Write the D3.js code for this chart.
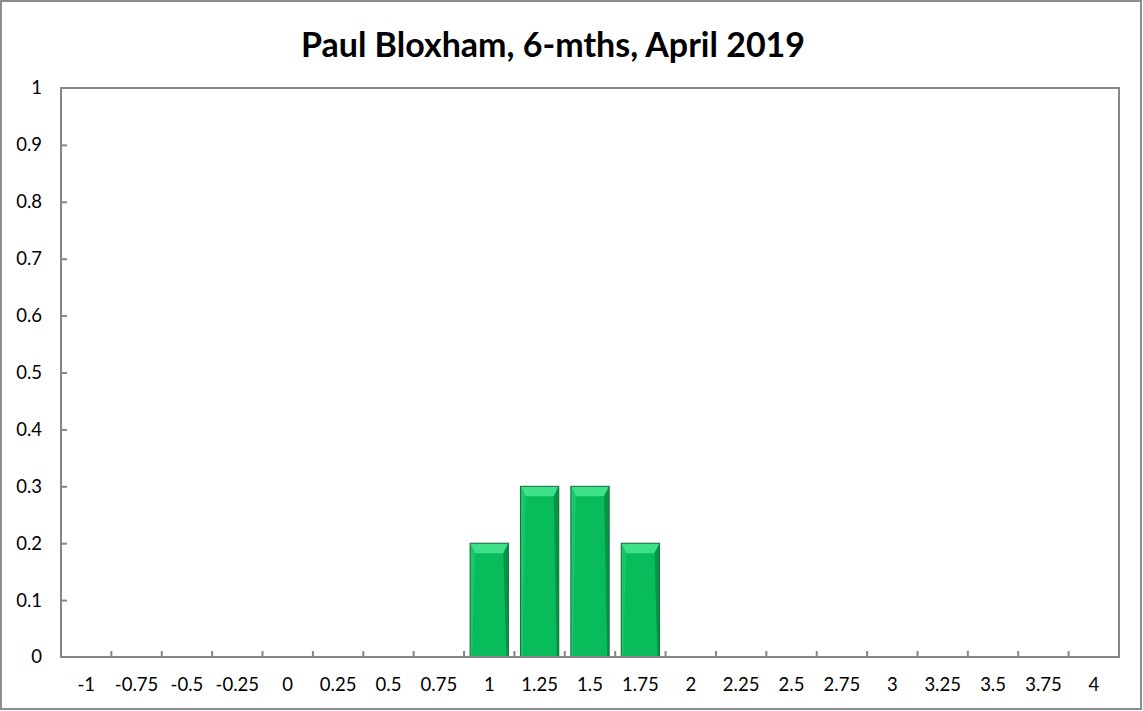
<!DOCTYPE html>
<html>
<head>
<meta charset="utf-8">
<script src="https://cdn.jsdelivr.net/npm/d3@7"></script>
<style>
  body { margin: 0; background: #fff; }
  svg { display: block; font-family: Lato, "Open Sans", sans-serif; }
</style>
</head>
<body>
<svg id="chart" width="1143" height="711"></svg>
<script>
// chart data
var title = "Paul Bloxham, 6-mths, April 2019";
var categories = ["-1", "-0.75", "-0.5", "-0.25", "0", "0.25", "0.5", "0.75", "1", "1.25", "1.5", "1.75", "2", "2.25", "2.5", "2.75", "3", "3.25", "3.5", "3.75", "4"];
var probs = [0, 0, 0, 0, 0, 0, 0, 0, 0.2, 0.3, 0.3, 0.2, 0, 0, 0, 0, 0, 0, 0, 0, 0];
var yTicks = [0, 0.1, 0.2, 0.3, 0.4, 0.5, 0.6, 0.7, 0.8, 0.9, 1];

var svg = d3.select("#chart"),
    margin = { top: 88, left: 61, bottom: 54, right: 24 },
    width = +svg.attr("width"),
    height = +svg.attr("height");

var data = categories.map((c, i) => ({ cat: c, value: probs[i] }));

// outer frame
svg.append("rect")
    .attr("x", 1).attr("y", 1)
    .attr("width", width - 3).attr("height", height - 3)
    .attr("fill", "#fff")
    .attr("stroke", "#8c8c8c")
    .attr("stroke-width", 2);

var x = d3.scaleBand()
    .domain(categories)
    .range([margin.left, width - margin.right])
    .paddingInner(0.24)
    .paddingOuter(0.12);

// band edges (for tick marks between categories)
var xEdge = d3.scaleBand()
    .domain(categories)
    .range([margin.left, width - margin.right]);

var y = d3.scaleLinear()
    .domain([0, 1])
    .range([height - margin.bottom, margin.top]);

// plot border
svg.append("rect")
    .attr("x", margin.left).attr("y", margin.top)
    .attr("width", width - margin.right - margin.left)
    .attr("height", height - margin.bottom - margin.top)
    .attr("fill", "none")
    .attr("stroke", "#868686")
    .attr("stroke-width", 2);

// title
svg.append("text")
    .attr("x", 553)
    .attr("y", 57)
    .attr("text-anchor", "middle")
    .attr("font-size", 34)
    .attr("font-weight", "bold")
    .attr("fill", "#000")
    .text(title);

// y axis
var yAxis = svg.append("g")
    .attr("transform", `translate(${margin.left},0)`)
    .call(d3.axisRight(y).tickValues(yTicks).tickSize(6).tickFormat(d3.format("")));
yAxis.select(".domain").remove();
yAxis.selectAll(".tick line").attr("stroke", "#868686").attr("stroke-width", 2);
yAxis.selectAll(".tick text")
    .attr("x", -19)
    .attr("text-anchor", "end")
    .attr("font-size", 18.5)
    .attr("font-family", "Lato, 'Open Sans', sans-serif")
    .attr("fill", "#000");
yAxis.selectAll(".tick").filter(d => d === 0 || d === 1).select("line").remove();

// x axis labels
var xAxis = svg.append("g")
    .attr("transform", `translate(0,${height - margin.bottom})`)
    .call(d3.axisBottom(xEdge).tickSize(0));
xAxis.select(".domain").remove();
xAxis.selectAll(".tick text")
    .attr("y", 28)
    .attr("dy", "0.32em")
    .attr("font-size", 18.5)
    .attr("font-family", "Lato, 'Open Sans', sans-serif")
    .attr("fill", "#000");

// tick marks between categories, pointing up
svg.append("g").selectAll("line")
    .data(categories.slice(1))
    .enter().append("line")
    .attr("x1", d => xEdge(d))
    .attr("x2", d => xEdge(d))
    .attr("y1", y(0))
    .attr("y2", y(0) - 6)
    .attr("stroke", "#868686")
    .attr("stroke-width", 2);

// bars with bevel
var bev = 5;
var bars = svg.append("g").selectAll("g")
    .data(data.filter(d => d.value > 0))
    .enter().append("g");

bars.append("rect")
    .attr("x", d => x(d.cat))
    .attr("y", d => y(d.value))
    .attr("width", x.bandwidth())
    .attr("height", d => y(0) - y(d.value))
    .attr("fill", "#08bb5b");

// top bevel (lighter)
bars.append("polygon")
    .attr("points", d => {
        var x0 = x(d.cat), x1 = x0 + x.bandwidth(), t = y(d.value);
        return [[x0, t], [x1, t], [x1 - bev, t + bev * 2], [x0 + bev, t + bev * 2]].join(" ");
    })
    .attr("fill", "#3fe08a");

// right bevel (darker)
bars.append("polygon")
    .attr("points", d => {
        var x0 = x(d.cat), x1 = x0 + x.bandwidth(), t = y(d.value), b = y(0);
        return [[x1, t], [x1, b], [x1 - 2, b], [x1 - bev, t + bev * 2]].join(" ");
    })
    .attr("fill", "#049447");

// left highlight
bars.append("polygon")
    .attr("points", d => {
        var x0 = x(d.cat), t = y(d.value), b = y(0);
        return [[x0, t], [x0 + bev, t + bev * 2], [x0 + 2, b], [x0, b]].join(" ");
    })
    .attr("fill", "#16c866");

bars.append("rect")
    .attr("x", d => x(d.cat))
    .attr("y", d => y(d.value))
    .attr("width", x.bandwidth())
    .attr("height", d => y(0) - y(d.value))
    .attr("fill", "none")
    .attr("stroke", "#1d6b3e")
    .attr("stroke-width", 1);

// redraw baseline on top
svg.append("line")
    .attr("x1", margin.left).attr("x2", width - margin.right)
    .attr("y1", y(0)).attr("y2", y(0))
    .attr("stroke", "#868686")
    .attr("stroke-width", 2);
</script>
</body>
</html>
